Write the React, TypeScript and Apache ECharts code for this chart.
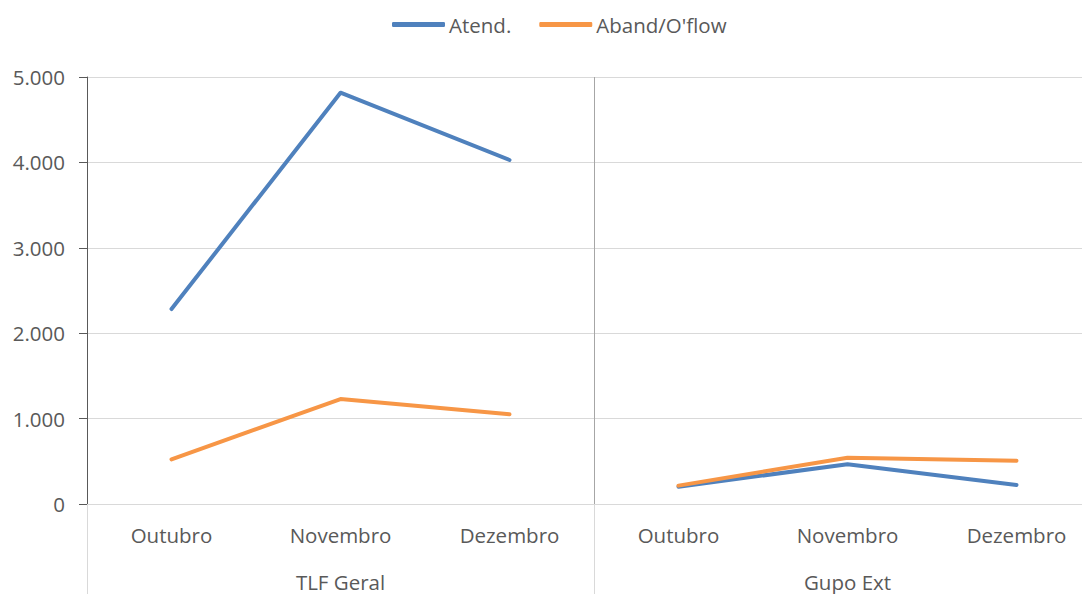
import React, { useEffect, useRef } from "react";
import * as echarts from "echarts";

const months = ["Outubro", "Novembro", "Dezembro", "Outubro", "Novembro", "Dezembro"];
const groups = ["TLF Geral", "Gupo Ext"];
const atendTLF = [2283, 4816, 4028];
const atendExt = [203, 465, 222];
const abandTLF = [523, 1229, 1050];
const abandExt = [215, 542, 507];
const yTicks = [0, 1000, 2000, 3000, 4000, 5000];

const BLUE = "#4f81bd";
const ORANGE = "#f79646";
const TEXT = "#595959";
const FONT = "'Open Sans', 'Noto Sans', sans-serif";
const FS = 20.5;

function fmt(v: number): string {
  return String(v).replace(/\B(?=(\d{3})+(?!\d))/g, ".");
}

export default function App() {
  const ref = useRef<HTMLDivElement>(null);
  useEffect(() => {
    if (!ref.current) return;
    const chart = echarts.init(ref.current, undefined, { renderer: "svg" });
    const blank = ["-", "-", "-"];
    const lineStyle = (c: string) => ({ color: c, width: 4, cap: "round", join: "round" });
    chart.setOption({
      animation: false,
      backgroundColor: "#ffffff",
      textStyle: { fontFamily: FONT },
      legend: {
        data: ["Atend.", "Aband/O'flow"],
        top: 9,
        left: 387,
        icon: "roundRect",
        itemWidth: 53,
        itemHeight: 5,
        itemGap: 28,
        textStyle: { color: TEXT, fontSize: FS, fontFamily: FONT, padding: [0, 0, 0, -1] },
      },
      grid: { left: 87, top: 77, width: 1014, height: 427, containLabel: false },
      xAxis: [
        {
          type: "category",
          data: months,
          position: "bottom",
          boundaryGap: true,
          axisLine: { show: true, lineStyle: { color: "#d9d9d9", width: 1 } },
          axisTick: { show: false },
          axisLabel: { color: TEXT, fontSize: FS, fontFamily: FONT, margin: 20 },
          splitLine: { show: false },
        },
        {
          type: "category",
          data: groups,
          position: "bottom",
          boundaryGap: true,
          axisLine: { show: false },
          axisTick: { show: true, length: 92, lineStyle: { color: "#d9d9d9", width: 1 } },
          axisLabel: { color: TEXT, fontSize: FS, fontFamily: FONT, margin: 67 },
          splitLine: { show: true, lineStyle: { color: "#a6a6a6", width: 1 } },
        },
      ],
      yAxis: {
        type: "value",
        min: yTicks[0],
        max: yTicks[yTicks.length - 1],
        interval: 1000,
        axisLine: { show: true, lineStyle: { color: "#595959", width: 1 } },
        axisTick: { show: true, length: 8, lineStyle: { color: "#595959" } },
        axisLabel: { color: TEXT, fontSize: FS, fontFamily: FONT, margin: 22, formatter: (v: number) => fmt(v) },
        splitLine: { show: true, lineStyle: { color: "#d9d9d9", width: 1 } },
      },
      series: [
        { name: "Atend.", type: "line", data: [...atendTLF, ...blank], symbol: "none", lineStyle: lineStyle(BLUE), itemStyle: { color: BLUE }, z: 2 },
        { name: "Atend.", type: "line", data: [...blank, ...atendExt], symbol: "none", lineStyle: lineStyle(BLUE), itemStyle: { color: BLUE }, z: 2 },
        { name: "Aband/O'flow", type: "line", data: [...abandTLF, ...blank], symbol: "none", lineStyle: lineStyle(ORANGE), itemStyle: { color: ORANGE }, z: 3 },
        { name: "Aband/O'flow", type: "line", data: [...blank, ...abandExt], symbol: "none", lineStyle: lineStyle(ORANGE), itemStyle: { color: ORANGE }, z: 3 },
      ],
    });
    return () => chart.dispose();
  }, []);
  return (
    <div style={{ position: "fixed", left: 0, top: 0, width: 1082, height: 594, overflow: "hidden", background: "#fff" }}>
      <div ref={ref} style={{ width: 1110, height: 594 }} />
    </div>
  );
}
